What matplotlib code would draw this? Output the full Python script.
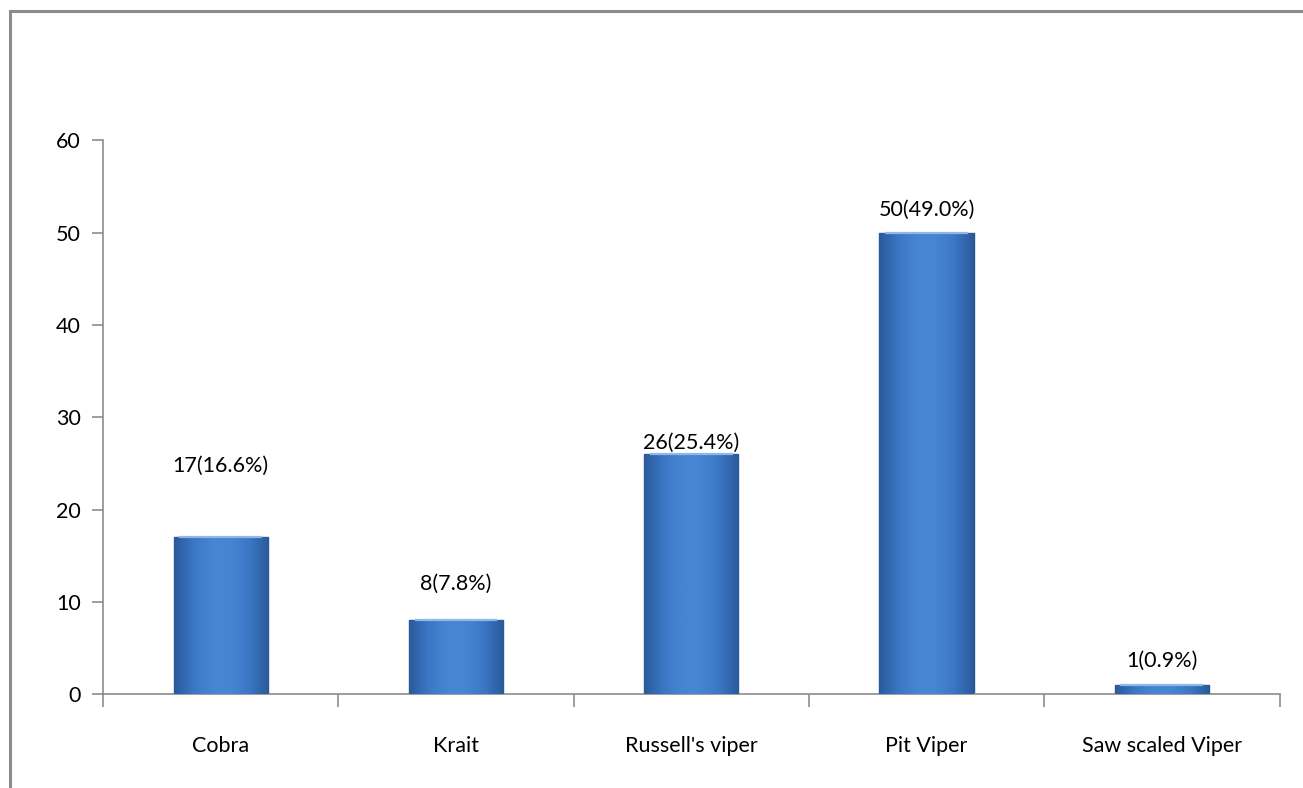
import numpy as np
import matplotlib.pyplot as plt
from matplotlib.colors import LinearSegmentedColormap
from matplotlib.patches import Rectangle


# ── Data ─────────────────────────────────────────────────────────────────────
snakes   = ["Cobra", "Krait", "Russell's viper", "Pit Viper", "Saw scaled Viper"]
counts   = [17, 8, 26, 50, 1]
percents = [16.6, 7.8, 25.4, 49.0, 0.9]

# vertical gap (points) between each bar top and its label
label_gap = [44, 19, 1, 9, 10]


# ── Figure ───────────────────────────────────────────────────────────────────
plt.rcParams["font.family"] = ["Lato", "DejaVu Sans"]
fig = plt.figure(figsize=(13.03, 7.88), dpi=100)

# thin grey frame round the chart area
frame = Rectangle((0.0077, -0.01), 1.1, 0.996, transform=fig.transFigure,
                  fill=False, edgecolor="#8c8c8c", linewidth=2.2)
fig.patches.append(frame)

ax = fig.add_axes([0.079, 0.119, 0.903, 0.703])

x = np.arange(len(snakes))
bars = ax.bar(x, counts, width=0.40, color="#3f7dcc", edgecolor="#2a5590",
              linewidth=1.0, zorder=2)

# horizontal shading inside each bar
shade = LinearSegmentedColormap.from_list(
    "bevel", ["#2a5a9a", "#3a76c3", "#4785d3", "#4785d3", "#3a76c3", "#2a5a9a"])
grad = np.linspace(0, 1, 256).reshape(1, -1)
for b in bars:
    x0, w, h = b.get_x(), b.get_width(), b.get_height()
    im = ax.imshow(grad, cmap=shade, aspect="auto", zorder=3,
                   extent=[x0, x0 + w, 0, h])
    im.set_clip_path(b)
    # lighter strip along the top edge
    ax.plot([x0 + w * 0.06, x0 + w * 0.94], [h, h], color="#8fb8ea",
            linewidth=1.6, zorder=4, solid_capstyle="butt")

for xi, c, p, g in zip(x, counts, percents, label_gap):
    ax.annotate(f"{c}({p:.1f}%)", (xi, c), xytext=(0, g),
                textcoords="offset points", ha="center", va="bottom",
                fontsize=15.5, color="black")

# ── Axes styling ─────────────────────────────────────────────────────────────
ax.set_xlim(-0.5, len(snakes) - 0.5)
ax.set_ylim(0, 60)
ax.set_yticks(range(0, 61, 10))
ax.set_xticks(x)
ax.set_xticklabels(snakes)
ax.set_xticks(np.arange(-0.5, len(snakes)), minor=True)

for side in ("top", "right"):
    ax.spines[side].set_visible(False)
for side in ("left", "bottom"):
    ax.spines[side].set_color("#8c8c8c")
    ax.spines[side].set_linewidth(1.2)

ax.tick_params(axis="y", length=8, width=1.2, color="#8c8c8c",
               labelsize=15.5, pad=8)
ax.tick_params(axis="x", which="major", length=0, labelsize=15.5, pad=30)
ax.tick_params(axis="x", which="minor", length=9, width=1.2, color="#8c8c8c")

plt.savefig("out.png", dpi=100)
